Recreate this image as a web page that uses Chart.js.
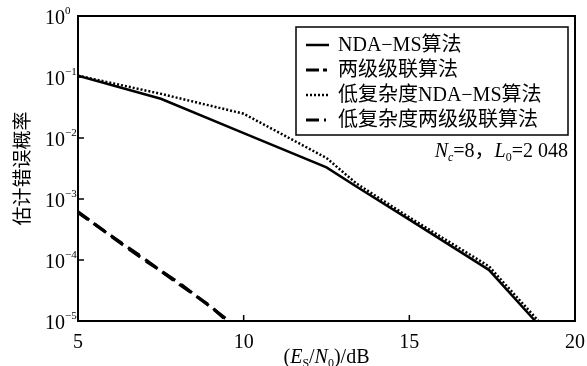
<!DOCTYPE html>
<html><head><meta charset="utf-8">
<script src="https://cdn.jsdelivr.net/npm/chart.js@4.4.0/dist/chart.umd.min.js"></script>
<style>html,body{margin:0;padding:0;background:#fff;}#wrap{width:587px;height:366px;}</style>
</head><body><div id="wrap"><canvas id="c" width="587" height="366"></canvas></div>
<script>
// ---- data ----
const seriesLabels = ['NDA\u2212MS算法', '两级级联算法', '低复杂度NDA\u2212MS算法', '低复杂度两级级联算法'];
const snrNdaMs     = [5, 7.5, 10, 12.5, 13.4, 15, 17.4, 18.8];
const berNdaMs     = [0.105, 0.044, 0.012, 0.0033, 0.0016, 4.6e-4, 6.9e-5, 1.0e-5];
const snrTwoStage  = [5, 6, 7, 8, 9, 9.55];
const berTwoStage  = [6.2e-4, 2.45e-4, 1.0e-4, 4.4e-5, 1.7e-5, 1.0e-5];
const snrLowNdaMs  = [5, 7.5, 10, 12.5, 13.4, 15, 17.4, 18.9];
const berLowNdaMs  = [0.105, 0.053, 0.025, 0.0047, 0.0018, 5.0e-4, 7.9e-5, 1.0e-5];
const snrLowTwo    = [5, 6, 7, 8, 9, 9.5];
const berLowTwo    = [6.0e-4, 2.5e-4, 1.05e-4, 4.2e-5, 1.75e-5, 1.0e-5];
const xTickValues  = [5, 10, 15, 20];
const yExponents   = [0, -1, -2, -3, -4, -5];
const yTickBase    = '10';
const yTitle       = '估计错误概率';
const noteText     = ['N', 'c', '=8，', 'L', '0', '=2 048'];

const pts = (xs, ys) => xs.map((v, i) => ({x: v, y: ys[i]}));
const serif = '"Liberation Serif", "Noto Sans CJK SC", serif';

const styles = [
  {borderWidth: 2.5, borderDash: [], legendDash: []},
  {borderWidth: 3.2, borderDash: [14, 7], legendDash: [13, 4, 4, 4]},
  {borderWidth: 2.5, borderDash: [2, 2], legendDash: [2, 2]},
  {borderWidth: 3.2, borderDash: [14, 7], borderDashOffset: 2, legendDash: [13, 5, 2, 5]}
];

function rich(ctx, segs, x, y, align) {
  let w = 0;
  segs.forEach(s => { ctx.font = s.f; s.w = ctx.measureText(s.t).width; w += s.w; });
  let cx = align === 'right' ? x - w : align === 'center' ? x - w / 2 : x;
  ctx.textBaseline = 'alphabetic'; ctx.textAlign = 'left';
  segs.forEach(s => { ctx.font = s.f; ctx.fillText(s.t, cx, y + (s.dy || 0)); cx += s.w; });
}

const decor = {
  id: 'decor',
  beforeDraw(chart) {
    const ctx = chart.ctx; ctx.save(); ctx.fillStyle = '#fff';
    ctx.fillRect(0, 0, chart.width, chart.height); ctx.restore();
  },
  afterDatasetsDraw(chart) {
    const {ctx, chartArea: a, scales: {x, y}} = chart;
    ctx.save();
    ctx.strokeStyle = '#000'; ctx.fillStyle = '#000'; ctx.setLineDash([]);
    ctx.lineWidth = 2;
    ctx.strokeRect(a.left, a.top, a.right - a.left, a.bottom - a.top);
    ctx.lineWidth = 1.5;
    yExponents.forEach(e => {
      const py = y.getPixelForValue(Math.pow(10, e));
      ctx.beginPath(); ctx.moveTo(a.left, py); ctx.lineTo(a.left + 6, py); ctx.stroke();
      const sup = e === 0 ? '0' : '\u2212' + (-e);
      ctx.textBaseline = 'alphabetic';
      ctx.font = '20px ' + serif; ctx.textAlign = 'right';
      ctx.fillText(yTickBase, a.left - 13, py + 8);
      ctx.font = '11px ' + serif; ctx.textAlign = 'left';
      ctx.fillText(sup, a.left - 13, py - 2);
    });
    xTickValues.forEach(v => {
      const px = x.getPixelForValue(v);
      ctx.beginPath(); ctx.moveTo(px, a.bottom); ctx.lineTo(px, a.bottom - 6); ctx.stroke();
    });
    // x axis title
    const f = '20px ' + serif, fi = 'italic 20px ' + serif, fs = '12px ' + serif;
    rich(ctx, [
      {t: '(', f}, {t: 'E', f: fi}, {t: 'S', f: fs, dy: 4}, {t: '/', f},
      {t: 'N', f: fi}, {t: '0', f: fs, dy: 4}, {t: ')/dB', f}
    ], (a.left + a.right) / 2, 363, 'center');
    // annotation
    rich(ctx, [
      {t: noteText[0], f: fi}, {t: noteText[1], f: 'italic ' + fs, dy: 4}, {t: noteText[2], f},
      {t: noteText[3], f: fi}, {t: noteText[4], f: fs, dy: 4}, {t: noteText[5], f}
    ], a.right - 7, 157, 'right');
    // legend
    const bw = 272, bh = 108, bx = a.right - 7 - bw, by = a.top + 11;
    ctx.fillStyle = '#fff'; ctx.fillRect(bx, by, bw, bh);
    ctx.lineWidth = 1.5; ctx.strokeRect(bx, by, bw, bh);
    ctx.fillStyle = '#000';
    chart.data.datasets.forEach((ds, i) => {
      const ry = by + 18 + i * 25;
      ctx.save();
      ctx.lineWidth = ds.borderWidth; ctx.setLineDash(styles[i].legendDash);
      ctx.beginPath(); ctx.moveTo(bx + 10, ry); ctx.lineTo(bx + 33, ry); ctx.stroke();
      ctx.restore();
      ctx.font = '20px ' + serif; ctx.textAlign = 'left'; ctx.textBaseline = 'middle';
      ctx.fillText(ds.label, bx + 42, ry + 1);
    });
    ctx.restore();
  }
};

new Chart(document.getElementById('c'), {
  type: 'line',
  data: {
    datasets: [
      {label: seriesLabels[0], data: pts(snrNdaMs, berNdaMs)},
      {label: seriesLabels[1], data: pts(snrTwoStage, berTwoStage)},
      {label: seriesLabels[2], data: pts(snrLowNdaMs, berLowNdaMs)},
      {label: seriesLabels[3], data: pts(snrLowTwo, berLowTwo)}
    ].map((d, i) => Object.assign(d, {
      borderWidth: styles[i].borderWidth, borderDash: styles[i].borderDash,
      borderDashOffset: styles[i].borderDashOffset || 0,
      borderColor: '#000', backgroundColor: '#000', pointRadius: 0, tension: 0, fill: false,
      borderCapStyle: 'butt'
    }))
  },
  options: {
    responsive: false, animation: false, devicePixelRatio: 1,
    layout: {padding: {top: 16, right: 8, left: 0, bottom: 0}},
    plugins: {legend: {display: false}, tooltip: {enabled: false}},
    scales: {
      x: {
        type: 'linear', min: 5, max: 20,
        grid: {display: false}, border: {display: false},
        afterBuildTicks: s => { s.ticks = xTickValues.map(v => ({value: v})); },
        ticks: {color: '#000', padding: 2, font: {family: serif, size: 20}, maxRotation: 0},
        afterFit: s => { s.height = 45; }
      },
      y: {
        type: 'logarithmic', min: 1e-5, max: 1,
        grid: {display: false}, border: {display: false},
        ticks: {display: false},
        title: {display: true, text: yTitle, color: '#000',
                font: {family: '"Noto Sans CJK SC", sans-serif', size: 19, lineHeight: 1.2},
                padding: {top: 10, bottom: 0}},
        afterFit: s => { s.width = 78; }
      }
    }
  },
  plugins: [decor]
});
</script></body></html>
